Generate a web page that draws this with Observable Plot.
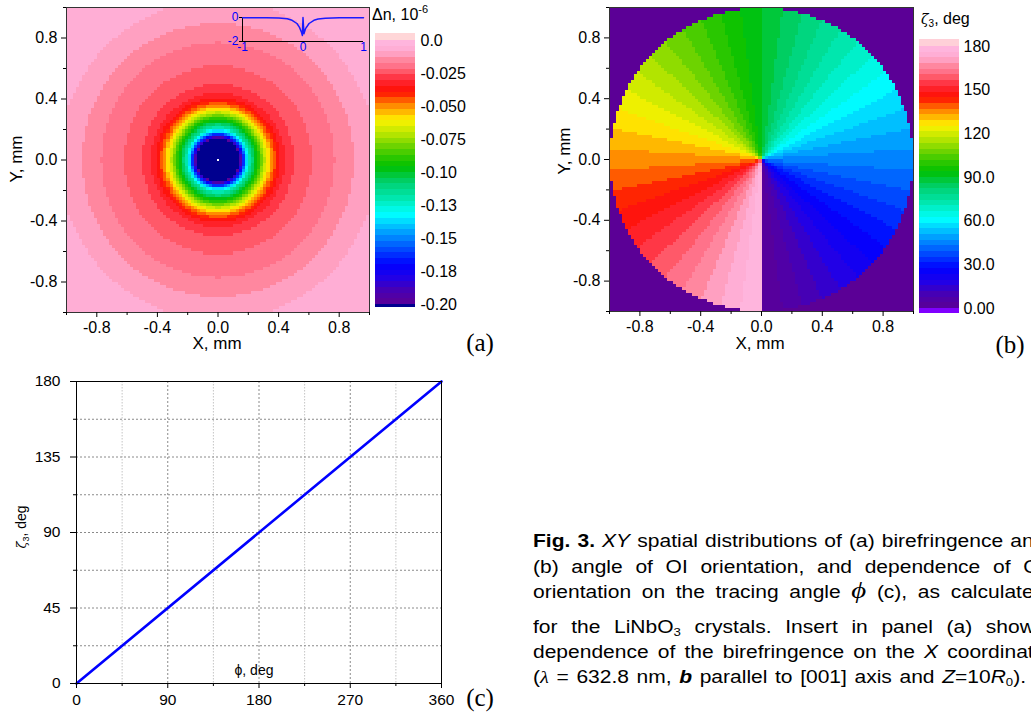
<!DOCTYPE html>
<html><head><meta charset="utf-8">
<script src="https://cdn.jsdelivr.net/npm/d3@7"></script>
<script src="https://cdn.jsdelivr.net/npm/@observablehq/plot@0.6"></script>
<style>
html,body{margin:0;padding:0;background:#fff;}
#root{position:relative;width:1031px;height:713px;overflow:hidden;font-family:"Liberation Sans",Arial,sans-serif;color:#000;}
#root svg{overflow:visible;}
.capline{position:absolute;left:533px;width:427px;font-size:17.5px;line-height:20px;white-space:nowrap;transform:scaleX(1.2);transform-origin:0 0;}
.just{display:flex;justify-content:space-between;align-items:baseline;}
.capline var{font-family:"Liberation Serif","DejaVu Serif",serif;font-style:italic;font-size:24px;line-height:0;}
.capline sub{font-size:11px;vertical-align:-3px;line-height:0;}
.lastline{word-spacing:1.5px;}
</style></head>
<body><div id="root"></div>
<script>
// ---------------- data ----------------
const axisMajor = [-0.8, -0.4, 0, 0.4, 0.8];
const axisMinor = [-1, -0.6, -0.2, 0.2, 0.6, 1];

// panel (a): radial profile of birefringence
const aRadius = [0, 0.145, 0.16, 0.18, 0.195, 0.215, 0.25, 0.29, 0.33, 0.36, 0.40, 0.44, 0.50, 0.62, 0.77, 0.90, 1.05, 1.42];
const aDn     = [-0.25, -0.2, -0.18, -0.15, -0.134, -0.116, -0.1, -0.08, -0.06, -0.048, -0.036, -0.0304, -0.026, -0.0217, -0.0174, -0.013, -0.0087, -0.006];
const aCenter = [{x: 0, y: 0}];
const aLegendTicks  = [0, -0.025, -0.05, -0.075, -0.1, -0.125, -0.15, -0.175, -0.2];
const aLegendLabels = ["0.0", "-0.025", "-0.050", "-0.075", "-0.10", "-0.13", "-0.15", "-0.18", "-0.20"];

// inset of panel (a)
const insetX = [-1, -0.6, -0.4, -0.26, -0.18, -0.1, -0.06, -0.025, -0.01, 0, 0.015, 0.04, 0.1, 0.18, 0.25, 0.37, 0.6, 1];
const insetY = [-0.02, -0.03, -0.05, -0.1, -0.23, -0.5, -0.8, -1.23, -1.5, 0, -1.35, -0.95, -0.5, -0.23, -0.12, -0.06, -0.03, -0.02];
const insetXTicks = [-1, 0, 1];
const insetYTicks = [0, -2];

// panels (b) and (c): OI orientation vs tracing angle
const phiDeg  = [0, 360];
const zetaDeg = [0, 180];
const bLegendTicks  = [180, 150, 120, 90, 60, 30, 0];
const bLegendLabels = ["180", "150", "120", "90.0", "60.0", "30.0", "0.00"];
const cXTicks = [0, 90, 180, 270, 360];
const cXMinor = [45, 135, 225, 315];
const cYTicks = [0, 45, 90, 135, 180];
const cYMinor = [22.5, 67.5, 112.5, 157.5];

// colour map (bottom -> top of the colour bars)
const paletteStops  = [0, 0.05, 0.10, 0.15, 0.20, 0.26, 0.30, 0.34, 0.40, 0.46, 0.52, 0.56, 0.60, 0.64, 0.68, 0.70, 0.72, 0.745, 0.77, 0.79, 0.82, 0.86, 0.88, 0.90, 0.925, 0.945, 0.97, 1];
const paletteColors = ["#5a0096","#4a00b0","#2000e8","#0000ff","#0040ff","#0090ff","#00c8ff","#00ffff","#00e8b0","#00d070","#00c000","#30c800","#70d400","#b0e400","#e8f000","#ffee00","#ffc800","#ff9800","#ff6000","#ff2800","#ff1010","#ff3848","#ff5868","#ff7088","#ff88a0","#ffa0c0","#ffb0d8","#ffb8e0"];
const nLevels = 46;

// ---------------- helpers ----------------
const root = document.getElementById("root");
function place(node, left, top) {
  node.style.position = "absolute";
  node.style.left = left + "px";
  node.style.top = top + "px";
  root.appendChild(node);
}
const FONT = '"Liberation Sans", Arial, sans-serif';
const baseStyle = {fontFamily: FONT, fontSize: "16px", background: "transparent", overflow: "visible", color: "#000"};

const pal = d3.scaleLinear(paletteStops, paletteColors);
const bandColors = d3.range(nLevels).map(i => pal((i + 0.5) / nLevels));
const aThr = d3.range(nLevels + 1).map(i => -0.2 + 0.2 * i / nLevels);
const bThr = d3.range(nLevels + 1).map(i => 180 * i / nLevels);
const colorA = {type: "threshold", domain: aThr, range: ["#00008f", ...bandColors, "#ffd6d8"]};
const colorB = {type: "threshold", domain: bThr, range: ["#8000ff", ...bandColors, "#ffd0d8"]};

function bandsFrom(edges) {
  return d3.range(edges.length - 1).map(k => ({y1: edges[k], y2: edges[k + 1], v: (edges[k] + edges[k + 1]) / 2}));
}
const aBands = bandsFrom([-0.2023, ...aThr, 0.0053]);
const bBands = bandsFrom([-3.4, ...bThr, 184.8]);

// ---------------- panel (a) ----------------
const dnAt = d3.scaleLinear(aRadius, aDn).clamp(true);
const plotA = Plot.plot({
  width: 380, height: 345, marginTop: 7, marginRight: 11, marginBottom: 33, marginLeft: 66,
  style: baseStyle,
  x: {domain: [-1, 1]}, y: {domain: [-1, 1]},
  color: colorA,
  marks: [
    Plot.raster({fill: (x, y) => dnAt(Math.hypot(x, y)), x1: -1, x2: 1, y1: -1, y2: 1, width: 100, height: 100, imageRendering: "pixelated"}),
    Plot.dot(aCenter, {x: "x", y: "y", r: 1.1, symbol: "square", fill: "#fff"}),
    Plot.frame({stroke: "#333"}),
    Plot.axisX(axisMajor, {tickSize: 5, tickPadding: 4, tickFormat: d => d.toFixed(1), label: null}),
    Plot.axisX(axisMinor, {tickSize: 3, tickFormat: () => "", label: null}),
    Plot.axisY(axisMajor, {tickSize: 5, tickPadding: 4, tickFormat: d => d.toFixed(1), label: null}),
    Plot.axisY(axisMinor, {tickSize: 3, tickFormat: () => "", label: null})
  ]
});
place(plotA, 0, 0);

const insetData = insetX.map((x, i) => ({x, y: insetY[i]}));
const plotInset = Plot.plot({
  width: 150, height: 52, marginTop: 14, marginRight: 12, marginBottom: 14, marginLeft: 17,
  style: {...baseStyle, fontSize: "12px"},
  x: {domain: [-1, 1]}, y: {domain: [-2, 0]},
  marks: [
    Plot.ruleX([-1], {stroke: "#000"}),
    Plot.ruleY([-2], {stroke: "#000"}),
    Plot.line(insetData, {x: "x", y: "y", stroke: "#1a1aff", strokeWidth: 1.5}),
    Plot.axisX(insetXTicks, {tickSize: 0, tickPadding: 1, tickFormat: d => String(d), fill: "#0000ff", label: null}),
    Plot.axisY(insetYTicks, {tickSize: 3, tickPadding: 1, tickFormat: d => String(d), fill: "#0000ff", stroke: "#000", label: null})
  ]
});
place(plotInset, 225, 3);

const plotALeg = Plot.plot({
  width: 110, height: 320, marginTop: 40, marginBottom: 16, marginLeft: 0, marginRight: 70,
  style: baseStyle,
  x: {domain: [0, 1], axis: null}, y: {domain: [-0.2, 0]},
  color: colorA,
  marks: [
    Plot.rect(aBands, {x1: 0, x2: 1, y1: "y1", y2: "y2", fill: "v", shapeRendering: "crispEdges"}),
    Plot.axisY(aLegendTicks, {anchor: "right", tickSize: 0, tickPadding: 5, tickFormat: d => aLegendLabels[aLegendTicks.indexOf(d)], label: null})
  ]
});
place(plotALeg, 375, 0);

// ---------------- panel (b) ----------------
const zetaOf = d3.scaleLinear(phiDeg, zetaDeg);
const plotB = Plot.plot({
  width: 400, height: 345, marginTop: 7, marginRight: 7, marginBottom: 34, marginLeft: 89,
  style: baseStyle,
  x: {domain: [-1, 1]}, y: {domain: [-1, 1]},
  color: colorB,
  marks: [
    Plot.frame({fill: "#5b0096"}),
    Plot.raster({
      fill: (x, y) => {
        if (Math.hypot(x, y) > 1) return NaN;
        let phi = Math.atan2(x, -y) * 180 / Math.PI;
        if (phi < 0) phi += 360;
        return zetaOf(phi);
      },
      x1: -1, x2: 1, y1: -1, y2: 1, width: 100, height: 100, imageRendering: "pixelated"
    }),
    Plot.frame({stroke: "#333"}),
    Plot.axisX(axisMajor, {tickSize: 5, tickPadding: 4, tickFormat: d => d.toFixed(1), label: null}),
    Plot.axisX(axisMinor, {tickSize: 3, tickFormat: () => "", label: null}),
    Plot.axisY(axisMajor, {tickSize: 5, tickPadding: 4, tickFormat: d => d.toFixed(1), label: null}),
    Plot.axisY(axisMinor, {tickSize: 3, tickFormat: () => "", label: null})
  ]
});
place(plotB, 520, 0);

const plotBLeg = Plot.plot({
  width: 112, height: 330, marginTop: 46, marginBottom: 22, marginLeft: 0, marginRight: 72,
  style: baseStyle,
  x: {domain: [0, 1], axis: null}, y: {domain: [0, 180]},
  color: colorB,
  marks: [
    Plot.rect(bBands, {x1: 0, x2: 1, y1: "y1", y2: "y2", fill: "v", shapeRendering: "crispEdges"}),
    Plot.axisY(bLegendTicks, {anchor: "right", tickSize: 0, tickPadding: 4, tickFormat: d => bLegendLabels[bLegendTicks.indexOf(d)], label: null})
  ]
});
place(plotBLeg, 919, 0);

// ---------------- panel (c) ----------------
const cData = phiDeg.map((p, i) => ({phi: p, zeta: zetaDeg[i]}));
const plotC = Plot.plot({
  width: 470, height: 353, marginTop: 21, marginRight: 29, marginBottom: 30, marginLeft: 76,
  style: {...baseStyle, fontSize: "15.5px"},
  x: {domain: [0, 360]}, y: {domain: [0, 180]},
  marks: [
    Plot.ruleX(cXMinor, {stroke: "#c4c4c4", strokeDasharray: "1.5,1.5"}),
    Plot.ruleX(cXTicks.slice(1, -1), {stroke: "#8a8a8a", strokeDasharray: "2,2"}),
    Plot.ruleY([...cYMinor, ...cYTicks.slice(1, -1)], {stroke: "#8a8a8a", strokeDasharray: "2,2"}),
    Plot.line(cData, {x: "phi", y: "zeta", stroke: "#0000ff", strokeWidth: 2.6}),
    Plot.frame({stroke: "#000"}),
    Plot.axisX(cXTicks, {tickSize: 5, tickPadding: 5, tickFormat: d => String(d), label: null}),
    Plot.axisX(cXMinor, {tickSize: 3, tickFormat: () => "", label: null}),
    Plot.axisY(cYTicks, {tickSize: 6, tickPadding: 10, tickFormat: d => String(d), label: null}),
    Plot.axisY(cYMinor, {tickSize: 3, tickFormat: () => "", label: null})
  ]
});
place(plotC, 0, 360);

// ---------------- text overlay ----------------
const NS = "http://www.w3.org/2000/svg";
const over = document.createElementNS(NS, "svg");
over.setAttribute("width", 1031);
over.setAttribute("height", 713);
over.style.pointerEvents = "none";
const SERIF = '"Liberation Serif", "Times New Roman", serif';
const texts = [
  {x: 217, y: 349, s: 17, a: "middle", h: "X, mm"},
  {x: 22, y: 159, s: 17, a: "middle", r: true, h: "Y, mm"},
  {x: 760, y: 349, s: 17, a: "middle", h: "X, mm"},
  {x: 570, y: 151, s: 17, a: "middle", r: true, h: "Y, mm"},
  {x: 372, y: 20, s: 16, a: "start", h: 'Δn, 10<tspan dy="-7" font-size="11">-6</tspan>'},
  {x: 921, y: 24, s: 16, a: "start", h: '<tspan font-family=\'"DejaVu Serif", serif\' font-style="italic" font-size="14">ζ</tspan><tspan dy="3" font-size="10">3</tspan><tspan dy="-3">, deg</tspan>'},
  {x: 254, y: 675, s: 14, a: "middle", h: "ϕ, deg"},
  {x: 26, y: 527, s: 14, a: "middle", r: true, h: '<tspan font-family=\'"DejaVu Serif", serif\' font-style="italic" font-size="13">ζ</tspan><tspan dy="3" font-size="9">3</tspan><tspan dy="-3">, deg</tspan>'},
  {x: 480, y: 351, s: 25, a: "middle", f: SERIF, h: "(a)"},
  {x: 1010, y: 353, s: 25, a: "middle", f: SERIF, h: "(b)"},
  {x: 480, y: 706, s: 25, a: "middle", f: SERIF, h: "(c)"}
];
over.innerHTML = texts.map(t => {
  const pos = t.r ? `x="0" y="0" transform="translate(${t.x},${t.y}) rotate(-90)"` : `x="${t.x}" y="${t.y}"`;
  return `<text ${pos} font-size="${t.s}" text-anchor="${t.a}" font-family='${t.f || FONT}' fill="#000">${t.h}</text>`;
}).join("");
place(over, 0, 0);

// ---------------- caption ----------------
const captionLines = [
  "<b>Fig.</b> <b>3.</b> <i>XY</i> spatial distributions of (a) birefringence and",
  "(b) angle of OI orientation, and dependence of OI",
  "orientation on the tracing angle <var>ϕ</var> (c), as calculated",
  "for the LiNbO<sub>3</sub> crystals. Insert in panel (a) shows",
  "dependence of the birefringence on the <i>X</i> coordinate",
  "(<var style='font-size:17px'>λ</var> = 632.8 nm, <b><i>b</i></b> parallel to [001] axis and <i>Z</i>=10<i>R</i><sub>0</sub>)."
];
const captionTops = [531, 557, 582, 617, 642, 667];
captionLines.forEach((line, i) => {
  const div = document.createElement("div");
  div.className = "capline";
  if (i < captionLines.length - 1) {
    div.classList.add("just");
    div.innerHTML = line.split(" ").map(w => `<span>${w}</span>`).join("");
  } else {
    div.classList.add("lastline");
    div.innerHTML = line;
  }
  div.style.top = captionTops[i] + "px";
  root.appendChild(div);
});
</script></body></html>
